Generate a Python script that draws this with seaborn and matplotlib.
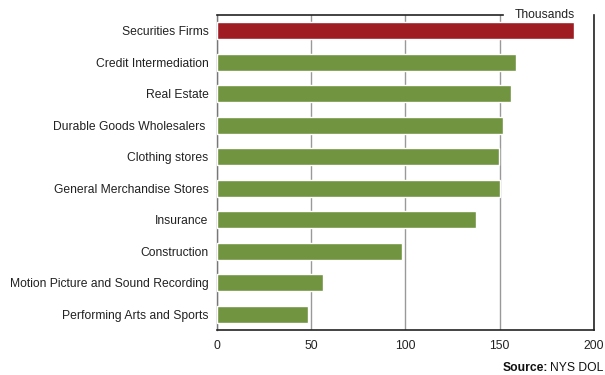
import matplotlib
matplotlib.use("Agg")
import matplotlib.pyplot as plt
import seaborn as sns
import pandas as pd

industries = [
    "Securities Firms",
    "Credit Intermediation",
    "Real Estate",
    "Durable Goods Wholesalers ",
    "Clothing stores",
    "General Merchandise Stores",
    "Insurance",
    "Construction",
    "Motion Picture and Sound Recording",
    "Performing Arts and Sports",
]
wages = [189.4, 158.5, 156.2, 151.7, 149.6, 150.0, 137.4, 98.0, 56.2, 48.1]
x_ticks = [0, 50, 100, 150, 200]

RED = "#9e1c22"
GREEN = "#70943f"
colors = [RED] + [GREEN] * (len(industries) - 1)

df = pd.DataFrame({"industry": industries, "wage": wages})

sns.set_theme(style="white")
plt.rcParams["font.family"] = ["Liberation Sans", "DejaVu Sans"]

fig = plt.figure(figsize=(6.05, 3.75), dpi=100)
ax = fig.add_axes([217 / 605, 1 - 330 / 375, 377 / 605, 315 / 375])

sns.barplot(data=df, y="industry", x="wage", hue="industry", palette=colors,
            legend=False, width=0.53, saturation=1, ax=ax, orient="h", zorder=3)

ax.set_xlim(0, 200)
ax.set_xticks(x_ticks)
ax.set_xticklabels([str(t) for t in x_ticks], fontsize=8.7, color="#222222")
ax.tick_params(axis="y", labelsize=8.7, colors="#222222", length=0, pad=6)
ax.tick_params(axis="x", length=0, pad=7)
for lab in ax.get_xticklabels():
    lab.set_clip_on(False)
ax.set_xlabel("")
ax.set_ylabel("")

ax.grid(axis="x", color="#999999", linewidth=1, zorder=0)
ax.grid(axis="y", visible=False)

for side in ["top", "right", "bottom"]:
    ax.spines[side].set_color("#222222")
    ax.spines[side].set_linewidth(1.2)
    ax.spines[side].set_visible(True)
# top rule stops short of the "Thousands" unit label
ax.spines["top"].set_bounds(0, 151.7)
ax.spines["left"].set_color("#777777")
ax.spines["left"].set_linewidth(1)
ax.spines["left"].set_visible(True)

ax.text(0.87, 1.0, "Thousands", transform=ax.transAxes, ha="center", va="center",
        fontsize=8.7, color="#222222", zorder=5)

fig.text(503 / 605, 1 - 368 / 375, "Source:", fontsize=8.7, fontweight="bold",
         color="#111111", ha="left", va="center")
fig.text(550 / 605, 1 - 368 / 375, "NYS DOL", fontsize=8.7,
         color="#111111", ha="left", va="center")

fig.savefig("out.png", dpi=100)
